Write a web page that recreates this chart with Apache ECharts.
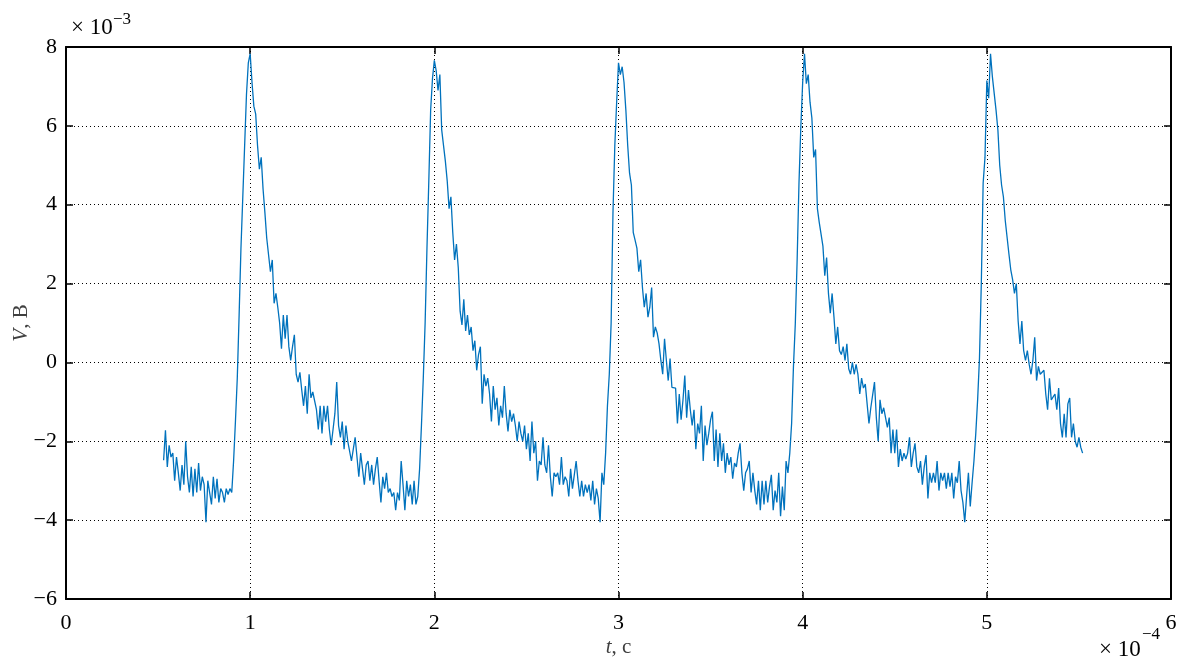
<!DOCTYPE html>
<html>
<head>
<meta charset="utf-8">
<script src="https://cdn.jsdelivr.net/npm/echarts@6/dist/echarts.min.js"></script>
<style>
html,body{margin:0;padding:0;background:#fff;}
#chart{width:1178px;height:657px;}
</style>
</head>
<body>
<div id="chart"></div>
<script>
// Sample grid (time in units of 1e-4 s)
const T_START = 0.53;
const T_STEP = 0.01;
// Voltage samples (units of 1e-3 V), in 5 blocks of 100 samples
const vSeg1 = [
-2.48,-1.72,-2.65,-2.1,-2.4,-2.3,-3.0,-2.4,-2.8,-3.25,
-2.6,-3.1,-2.0,-2.9,-3.3,-2.65,-3.4,-2.7,-3.3,-2.55,
-3.25,-2.9,-3.1,-4.05,-3.0,-3.3,-3.6,-2.9,-3.45,-2.95,
-3.55,-3.2,-3.3,-3.55,-3.2,-3.35,-3.2,-3.3,-2.5,-1.5,
-0.4,1.2,2.9,4.2,5.5,6.8,7.6,7.83,7.1,6.5,
6.3,5.5,4.9,5.2,4.4,3.8,3.15,3.1,2.3,2.6,
1.5,1.75,1.4,1.0,0.35,1.2,0.6,1.2,0.4,0.05,
0.4,0.7,-0.3,-0.5,-0.25,-0.7,-1.1,-0.6,-1.3,-0.3,
-0.9,-0.75,-0.8,-1.2,-1.7,-1.1,-1.8,-1.1,-1.5,-1.1,
-1.7,-2.1,-1.7,-1.3,-0.5,-1.6,-1.9,-1.5,-2.2,-1.6
];
const vSeg2 = [
-2.0,-2.0,-2.5,-2.2,-1.9,-2.4,-2.9,-2.3,-2.7,-3.1,
-2.6,-2.5,-3.0,-2.6,-3.1,-2.7,-2.4,-3.0,-3.55,-2.9,
-3.2,-2.8,-3.3,-3.2,-3.4,-3.3,-3.75,-3.3,-3.5,-2.5,
-3.1,-3.75,-3.0,-3.4,-3.1,-3.6,-3.0,-3.6,-3.4,-2.7,
-1.6,-0.4,1.0,2.9,4.6,6.4,7.2,7.66,7.4,6.9,
7.3,5.9,5.5,5.1,4.6,3.9,4.2,3.3,2.6,3.0,
2.4,1.3,0.95,1.6,0.8,1.2,0.7,0.9,0.3,0.55,
-0.2,0.2,0.4,-1.05,-0.3,-0.6,-0.4,-0.8,-1.5,-0.6,
-1.2,-0.9,-1.6,-1.1,-1.4,-0.6,-1.3,-1.75,-1.2,-1.5,
-1.3,-1.6,-2.0,-1.5,-1.8,-2.0,-1.6,-2.2,-1.8,-2.5
];
const vSeg3 = [
-1.5,-2.3,-2.0,-3.0,-2.5,-2.6,-1.9,-2.6,-2.8,-2.1,
-2.9,-3.4,-2.8,-2.9,-2.8,-3.1,-2.4,-3.1,-2.9,-3.0,
-3.4,-2.7,-3.2,-3.2,-2.5,-3.0,-3.4,-3.0,-3.4,-3.1,
-3.3,-3.1,-3.5,-3.0,-3.6,-3.2,-3.45,-4.05,-2.8,-3.1,
-2.3,-1.1,-0.3,1.0,3.8,5.5,6.6,7.6,7.3,7.5,
7.1,6.4,5.5,4.8,4.5,3.3,3.1,2.9,2.3,2.6,
1.9,1.4,1.75,1.15,1.4,1.9,0.64,0.9,0.75,0.47,
0.05,-0.3,0.6,0.05,-0.46,0.1,-0.63,-0.6,-0.65,-1.55,
-0.8,-1.45,-0.96,-0.33,-1.4,-0.7,-1.2,-1.6,-1.2,-2.2,
-1.55,-1.8,-1.1,-2.5,-1.6,-2.1,-1.8,-1.45,-1.25,-2.5
];
const vSeg4 = [
-1.7,-2.65,-1.8,-2.5,-2.05,-2.8,-2.3,-2.6,-2.4,-2.95,
-2.55,-2.65,-2.3,-2.05,-2.8,-3.25,-2.8,-2.7,-2.5,-3.3,
-2.8,-3.25,-3.6,-3.0,-3.75,-3.0,-3.6,-3.0,-3.55,-3.15,
-2.85,-3.75,-3.25,-3.55,-2.8,-3.9,-3.15,-3.75,-2.5,-2.8,
-2.3,-1.55,-0.1,0.98,2.6,4.55,5.97,7.1,7.83,7.07,
7.3,6.6,6.2,5.2,5.4,3.9,3.55,3.5,2.95,2.2,
2.66,1.75,1.25,1.75,1.15,0.47,0.9,0.3,0.2,0.4,
0.05,0.47,-0.16,-0.3,0.0,-0.3,-0.05,-0.3,-0.8,-0.4,
-0.65,-0.55,-0.6,-1.55,-1.15,-1.15,-0.5,-1.4,-2.0,-0.95,
-1.3,-1.15,-1.4,-1.65,-1.4,-2.3,-1.7,-2.3,-1.7,-2.65
];
const vSeg5 = [
-2.2,-2.5,-2.3,-2.45,-2.3,-1.9,-2.65,-2.3,-2.05,-2.65,
-2.8,-2.5,-3.1,-2.65,-2.35,-3.45,-2.8,-3.05,-2.8,-3.05,
-2.5,-3.25,-2.8,-3.0,-2.8,-3.2,-2.8,-3.15,-2.8,-3.45,
-2.9,-3.05,-2.5,-3.25,-3.55,-4.05,-3.4,-2.8,-3.65,-3.05,
-2.5,-1.8,-0.95,0.1,2.0,4.55,5.2,7.15,6.7,7.83,
7.25,7.2,6.4,5.9,5.0,4.5,4.2,3.6,3.55,2.75,
2.35,2.1,1.75,2.0,1.05,0.47,1.05,0.3,0.05,0.3,
-0.05,-0.3,0.05,0.64,-0.46,-0.1,-0.3,-0.3,-0.2,-0.8,
-1.2,-0.4,-0.95,-0.95,-0.8,-1.2,-0.65,-1.55,-1.9,-1.3,
-1.9,-1.05,-0.9,-1.9,-1.55,-2.0,-2.15,-1.9,-2.15,-2.3
];
const xTickLabels = ['0','1','2','3','4','5','6'];
const yTickLabels = ['−6','−4','−2','0','2','4','6','8'];

const voltage = [].concat(vSeg1, vSeg2, vSeg3, vSeg4, vSeg5);
const seriesData = voltage.map((v, i) => [T_START + i * T_STEP, v]);

const FONT = 'Liberation Serif';
const chart = echarts.init(document.getElementById('chart'), null, {renderer: 'canvas'});

const axisLineStyle = {color: '#000', width: 2};
const tickStyle = {color: '#000', width: 1.5};
const gridLine = {show: true, lineStyle: {color: '#000', width: 1, type: [1, 3]}};
const LABEL_COLOR = '#404040';

chart.setOption({
  animation: false,
  backgroundColor: '#fff',
  grid: {left: 66, right: 7, top: 47, bottom: 58, containLabel: false, outerBoundsMode: 'none'},
  xAxis: [{
    type: 'value', min: 0, max: 6, interval: 1,
    axisLine: {show: true, onZero: false, lineStyle: axisLineStyle},
    axisTick: {show: true, inside: true, length: 7, lineStyle: tickStyle},
    axisLabel: {color: '#000', fontFamily: FONT, fontSize: 22, margin: 13,
      formatter: v => xTickLabels[Math.round(v)]},
    splitLine: gridLine,
    name: '{i|t}, с', nameLocation: 'middle', nameGap: 38, nameMoveOverlap: false,
    nameTextStyle: {color: LABEL_COLOR, fontFamily: FONT, fontSize: 21,
      rich: {i: {fontStyle: 'italic', fontFamily: FONT, fontSize: 21, color: LABEL_COLOR}}}
  }, {
    type: 'value', position: 'top', min: 0, max: 6, interval: 1,
    axisLine: {show: true, onZero: false, lineStyle: axisLineStyle},
    axisTick: {show: true, inside: true, length: 7, lineStyle: tickStyle},
    axisLabel: {show: false}, splitLine: {show: false}
  }],
  yAxis: [{
    type: 'value', min: -6, max: 8, interval: 2,
    axisLine: {show: true, onZero: false, lineStyle: axisLineStyle},
    axisTick: {show: true, inside: true, length: 7, lineStyle: tickStyle},
    axisLabel: {color: '#000', fontFamily: FONT, fontSize: 22, margin: 9,
      formatter: v => yTickLabels[Math.round((v + 6) / 2)]},
    splitLine: gridLine,
    name: '{i|V}, В', nameLocation: 'middle', nameGap: 34, nameRotate: 90, nameMoveOverlap: false,
    nameTextStyle: {color: LABEL_COLOR, fontFamily: FONT, fontSize: 21,
      rich: {i: {fontStyle: 'italic', fontFamily: FONT, fontSize: 21, color: LABEL_COLOR}}}
  }, {
    type: 'value', position: 'right', min: -6, max: 8, interval: 2,
    axisLine: {show: true, onZero: false, lineStyle: axisLineStyle},
    axisTick: {show: true, inside: true, length: 7, lineStyle: tickStyle},
    axisLabel: {show: false}, splitLine: {show: false}
  }],
  graphic: [
    {type: 'text', left: 71, top: 16, style: {text: '× 10', fontFamily: FONT, fontSize: 23, fill: '#000'}},
    {type: 'text', left: 113, top: 11, style: {text: '−3', fontFamily: FONT, fontSize: 17, fill: '#000'}},
    {type: 'text', left: 1099, top: 638, style: {text: '× 10', fontFamily: FONT, fontSize: 23, fill: '#000'}},
    {type: 'text', left: 1142, top: 626, style: {text: '−4', fontFamily: FONT, fontSize: 17, fill: '#000'}}
  ],
  series: [{
    type: 'line', xAxisIndex: 0, yAxisIndex: 0,
    data: seriesData, showSymbol: false, symbol: 'none',
    lineStyle: {color: '#0072BD', width: 1.3},
    z: 1
  }]
});
</script>
</body>
</html>
